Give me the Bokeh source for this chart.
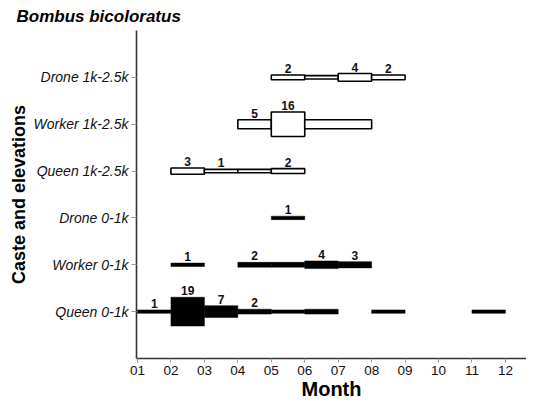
from bokeh.plotting import figure
from bokeh.models import Range1d, FixedTicker, ColumnDataSource
from bokeh.core.properties import value
from bokeh.embed import file_html
from bokeh.resources import INLINE

# ---- data ----
row_names = ["Queen 0-1k", "Worker 0-1k", "Drone 0-1k",
             "Queen 1k-2.5k", "Worker 1k-2.5k", "Drone 1k-2.5k"]
month_ticks = ["01", "02", "03", "04", "05", "06", "07", "08", "09", "10", "11", "12"]

# low elevation (filled black)
queen_low_start = [1, 2, 3, 4, 5, 6, 8, 11]
queen_low_end = [2, 3, 4, 5, 6, 7, 9, 12]
queen_low_count = [1, 19, 7, 2, 1, 2, 1, 1]
queen_low_label = ["1", "19", "7", "2", "", "", "", ""]

worker_low_start = [2, 4, 5, 6, 7]
worker_low_end = [3, 5, 6, 7, 8]
worker_low_count = [1, 2, 2, 4, 3]
worker_low_label = ["1", "2", "", "4", "3"]

drone_low_start = [5]
drone_low_end = [6]
drone_low_count = [1]
drone_low_label = ["1"]

# high elevation (open boxes)
queen_high_start = [2, 3, 4, 5]
queen_high_end = [3, 4, 5, 6]
queen_high_count = [3, 1, 1, 2]
queen_high_label = ["3", "1", "", "2"]

worker_high_start = [4, 5, 6]
worker_high_end = [5, 6, 8]
worker_high_count = [5, 16, 5]
worker_high_label = ["5", "16", ""]

drone_high_start = [5, 6, 7, 8]
drone_high_end = [6, 7, 8, 9]
drone_high_count = [2, 1, 4, 2]
drone_high_label = ["2", "", "4", "2"]

series = [
    (1, queen_low_start, queen_low_end, queen_low_count, queen_low_label, True),
    (2, worker_low_start, worker_low_end, worker_low_count, worker_low_label, True),
    (3, drone_low_start, drone_low_end, drone_low_count, drone_low_label, True),
    (4, queen_high_start, queen_high_end, queen_high_count, queen_high_label, False),
    (5, worker_high_start, worker_high_end, worker_high_count, worker_high_label, False),
    (6, drone_high_start, drone_high_end, drone_high_count, drone_high_label, False),
]

W, H = 526, 402
FRAME_H = 326
PPU = FRAME_H / 7.0  # pixels per y unit

p = figure(width=W, height=H, output_backend="svg", toolbar_location=None,
           x_range=Range1d(0.97, 12.63), y_range=Range1d(0, 7),
           min_border_left=136, min_border_right=0, min_border_top=0, min_border_bottom=0)
p.background_fill_color = "white"
p.border_fill_color = "white"
p.outline_line_color = None
p.grid.visible = False

FONT = "Liberation Sans"

p.title.text = "Bombus bicoloratus"
p.title.text_font = FONT
p.title.text_font_style = "bold italic"
p.title.text_font_size = "17px"
p.title.text_color = "#000000"
p.title.align = "left"
p.title.offset = -120
p.title.standoff = 9

for row, st, en, cnt, lab, filled in series:
    half = [(2 + 1.4 * c) / 2.0 / PPU for c in cnt]
    src = ColumnDataSource(dict(
        left=st, right=en,
        top=[row + h for h in half], bottom=[row - h for h in half],
        xm=[(a + b) / 2.0 for a, b in zip(st, en)],
        lab=lab))
    if filled:
        p.quad(left="left", right="right", top="top", bottom="bottom", source=src,
               fill_color="black", line_color="black", line_width=0.5)
    else:
        p.quad(left="left", right="right", top="top", bottom="bottom", source=src,
               fill_color="white", line_color="black", line_width=1.6)
    p.text(x="xm", y="top", text="lab", source=src, text_align="center",
           text_baseline="bottom", y_offset=-2, text_font=value(FONT),
           text_font_style="bold", text_font_size="12px", text_color="#111111")

# x axis
xa = p.xaxis[0]
xa.ticker = FixedTicker(ticks=list(range(1, 13)))
xa.major_label_overrides = {i + 1: t for i, t in enumerate(month_ticks)}
xa.axis_label = "Month"
xa.axis_label_text_font = FONT
xa.axis_label_text_font_style = "bold"
xa.axis_label_text_font_size = "20px"
xa.axis_label_text_color = "#000000"
xa.axis_label_standoff = 0
xa.major_label_text_font = FONT
xa.major_label_text_font_size = "13.5px"
xa.major_label_text_color = "#111111"
xa.major_label_standoff = 3
xa.axis_line_color = "#333333"
xa.axis_line_width = 1.6
xa.major_tick_line_color = "#999999"
xa.major_tick_out = 4
xa.major_tick_in = 0
xa.minor_tick_line_color = None

ya = p.yaxis[0]
ya.ticker = FixedTicker(ticks=[1, 2, 3, 4, 5, 6])
ya.major_label_overrides = {i + 1: t for i, t in enumerate(row_names)}
ya.axis_label = "Caste and elevations"
ya.axis_label_text_font = FONT
ya.axis_label_text_font_style = "bold"
ya.axis_label_text_font_size = "18px"
ya.axis_label_text_color = "#000000"
ya.axis_label_standoff = 2
ya.major_label_text_font = FONT
ya.major_label_text_font_style = "italic"
ya.major_label_text_font_size = "14px"
ya.major_label_text_color = "#111111"
ya.major_label_standoff = 3
ya.axis_line_color = "#333333"
ya.axis_line_width = 1.6
ya.major_tick_line_color = "#999999"
ya.major_tick_out = 5
ya.major_tick_in = 0
ya.minor_tick_line_color = None

open("out.html", "w").write(file_html(p, INLINE))
